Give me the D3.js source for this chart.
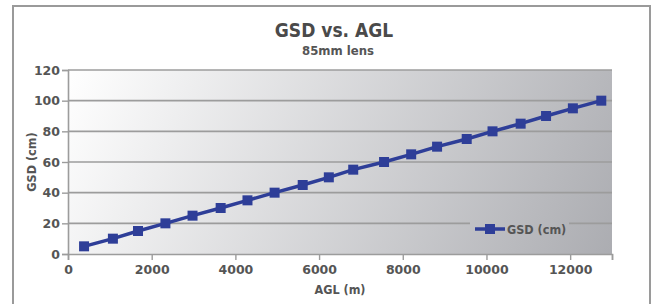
<!DOCTYPE html>
<html>
<head>
<meta charset="utf-8">
<script src="https://cdn.jsdelivr.net/npm/d3@7"></script>
<style>
  body { margin: 0; background: #fff; }
  svg text { font-family: "DejaVu Sans", sans-serif; font-weight: bold; fill: #555; }
  .cond { font-family: "DejaVu Sans Condensed", "DejaVu Sans", sans-serif; font-stretch: condensed; }
</style>
</head>
<body>
<svg id="chart" width="654" height="304"></svg>
<script>
// ######## chart data
var agl = [384, 1073, 1673, 2328, 2976, 3648, 4289, 4937, 5609, 6233,
           6816, 7553, 8201, 8820, 9528, 10145, 10817, 11424, 12065, 12744];
var gsd = [5, 10, 15, 20, 25, 30, 35, 40, 45, 50,
           55, 60, 65, 70, 75, 80, 85, 90, 95, 100];
var xTicks = [0, 2000, 4000, 6000, 8000, 10000, 12000];
var yTicks = [0, 20, 40, 60, 80, 100, 120];
var seriesName = "GSD (cm)";

var svg = d3.select("#chart");
// plot area box
var plotL = 68, plotR = 612, plotT = 70, plotB = 254;

var x = d3.scaleLinear().domain([0, 13000]).range([plotL, plotR]);
var y = d3.scaleLinear().domain([0, 120]).range([plotB, plotT]);

// outer frame
svg.append("rect")
    .attr("x", 13).attr("y", 6).attr("width", 637).attr("height", 310)
    .attr("fill", "#fff").attr("stroke", "#9a9a9a").attr("stroke-width", 2);

// plot background gradient
var grad = svg.append("defs").append("linearGradient")
    .attr("id", "bg").attr("gradientUnits", "userSpaceOnUse")
    .attr("x1", plotL).attr("y1", plotT).attr("x2", plotR).attr("y2", plotB + 60);
grad.append("stop").attr("offset", 0).attr("stop-color", "#ffffff");
grad.append("stop").attr("offset", 1).attr("stop-color", "#a8a9ae");

svg.append("rect")
    .attr("x", plotL).attr("y", plotT).attr("width", plotR - plotL).attr("height", plotB - plotT)
    .attr("fill", "url(#bg)");

// gridlines
svg.append("g").selectAll("line")
    .data(yTicks.filter(d => d > 0))
    .join("line")
    .attr("x1", plotL).attr("x2", plotR)
    .attr("y1", d => y(d)).attr("y2", d => y(d))
    .attr("stroke", "#9c9c9c").attr("stroke-width", 1.6);

// axes
var yAxis = svg.append("g")
    .attr("transform", "translate(" + plotL + ",0)")
    .call(d3.axisLeft(y).tickValues(yTicks).tickSize(6).tickPadding(2));
var xAxis = svg.append("g")
    .attr("transform", "translate(0," + plotB + ")")
    .call(d3.axisBottom(x).tickValues(xTicks.concat([13000])).tickSize(6).tickPadding(3)
        .tickFormat(d => d === 13000 ? "" : d));

[yAxis, xAxis].forEach(function(a) {
    a.select(".domain").attr("stroke", "#9c9c9c").attr("stroke-width", 1.6);
    a.selectAll(".tick line").attr("stroke", "#9c9c9c").attr("stroke-width", 1.4);
    a.selectAll(".tick text").attr("fill", "#555").style("font-size", "12.5px");
});
xAxis.selectAll(".tick text").attr("dy", "0.9em");

// legend (sits on the plot, hides the gridline behind it)
svg.append("rect")
    .attr("x", 470).attr("y", 218).attr("width", 99).attr("height", 22)
    .attr("fill", "url(#bg)");
var lg = svg.append("g");
lg.append("line")
    .attr("x1", 475).attr("x2", 505).attr("y1", 229).attr("y2", 229)
    .attr("stroke", "#2e3e98").attr("stroke-width", 3.5);
lg.append("rect")
    .attr("x", 485).attr("y", 224).attr("width", 10).attr("height", 10)
    .attr("fill", "#2e3e98");
lg.append("text").attr("class", "cond")
    .attr("x", 507).attr("y", 233.5)
    .style("font-size", "12.5px")
    .text(seriesName);

// series line + markers
var pts = agl.map((d, i) => [d, gsd[i]]);
svg.append("path")
    .datum(pts)
    .attr("fill", "none")
    .attr("stroke", "#2e3e98").attr("stroke-width", 3.5)
    .attr("d", d3.line().x(d => x(d[0])).y(d => y(d[1])));
svg.append("g").selectAll("rect")
    .data(pts)
    .join("rect")
    .attr("x", d => x(d[0]) - 5).attr("y", d => y(d[1]) - 5)
    .attr("width", 10).attr("height", 10)
    .attr("fill", "#2e3e98");

// titles
svg.append("text").attr("class", "cond")
    .attr("x", 334).attr("y", 37)
    .attr("text-anchor", "middle")
    .style("font-size", "19px").style("fill", "#4a4a4a")
    .text("GSD vs. AGL");
svg.append("text").attr("class", "cond")
    .attr("x", 338).attr("y", 55)
    .attr("text-anchor", "middle")
    .style("font-size", "13px")
    .text("85mm lens");
svg.append("text").attr("class", "cond")
    .attr("x", 340).attr("y", 294)
    .attr("text-anchor", "middle")
    .style("font-size", "12.5px")
    .text("AGL (m)");
svg.append("text").attr("class", "cond")
    .attr("transform", "translate(36,162) rotate(-90)")
    .attr("text-anchor", "middle")
    .style("font-size", "12.5px")
    .text("GSD (cm)");
</script>
</body>
</html>
